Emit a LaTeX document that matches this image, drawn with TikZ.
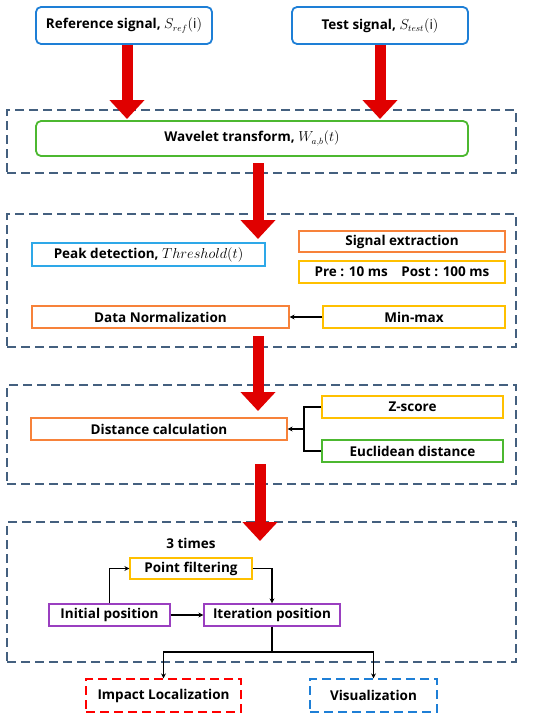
\documentclass[tikz,border=0pt]{standalone}
\usepackage{amsmath}
\usepackage{fontspec}
\setmainfont{Open Sans}
\usetikzlibrary{arrows.meta,positioning,calc}
\definecolor{boxblue}{HTML}{1E7FD6}
\definecolor{skyblue}{HTML}{2EA8E8}
\definecolor{boxgreen}{HTML}{4CB830}
\definecolor{boxorange}{HTML}{F7823A}
\definecolor{boxyellow}{HTML}{FFC000}
\definecolor{boxpurple}{HTML}{9A3FC0}
\definecolor{arrowred}{HTML}{E00000}
\definecolor{framegray}{HTML}{44607F}

\begin{document}
\begin{tikzpicture}[
                x=1pt, y=-1pt,
                font=\fontsize{13.5}{15}\selectfont\bfseries,
                box/.style={rectangle, draw, line width=1.2pt, align=center,
                        minimum height=22pt, inner sep=1pt},
                inbox/.style={box, rounded corners=5pt, line width=1.8pt, draw=boxblue},
                frame/.style={rectangle, draw=framegray, line width=1.2pt,
                        dash pattern=on 9pt off 5pt, inner sep=0pt},
                bigarrow/.style={draw=arrowred, line width=11pt,
                        -{Triangle[width=34pt, length=19pt]}},
                edge/.style={draw, line width=1.2pt, -{Stealth[length=5pt, width=5pt]}},
                link/.style={draw, line width=1.2pt},
            ]
            \useasboundingbox (0,0) rectangle (550,720);

            % -- dashed stage frames --------------------------------
            \node[frame, minimum width=509pt, minimum height=63pt]  (f1) at (261.5,141.5) {};
            \node[frame, minimum width=509pt, minimum height=133pt] (f2) at (261.5,280.5) {};
            \node[frame, minimum width=509pt, minimum height=99pt]  (f3) at (261.5,434.5) {};
            \node[frame, minimum width=509pt, minimum height=140pt] (f4) at (261.5,592) {};

            % -- inputs ---------------------------------------------
            \node[inbox, minimum width=176pt, minimum height=37pt] (ref)  at (124,25.5) {Reference signal, $S_{ref}(\mathrm{i})$};
            \node[inbox, minimum width=176pt, minimum height=37pt] (test) at (380,25.5) {Test signal, $S_{test}(\mathrm{i})$};
            \node[box, rounded corners=5pt, line width=1.8pt, draw=boxgreen,
                  minimum width=432pt, minimum height=35pt] (wave) at (252,138.5) {Wavelet transform, $W_{a,b}(t)$};

            % -- stage 2 --------------------------------------------
            \node[box, draw=skyblue,   minimum width=233pt, minimum height=23pt] (peak)    at (148.5,254.5) {Peak detection, $Threshold(t)$};
            \node[box, draw=boxorange, minimum width=206pt, minimum height=21pt] (sigext)  at (402,241.5) {Signal extraction};
            \node[box, draw=boxyellow, minimum width=206pt] (prepost) at (402,272) {Pre : 10 ms\quad Post : 100 ms};
            \node[box, draw=boxorange, minimum width=257pt] (norm)    at (160.5,317) {Data Normalization};
            \node[box, draw=boxyellow, minimum width=182pt] (minmax)  at (414,317) {Min-max};
            \draw[edge] (minmax) -- (norm);

            % -- stage 3 --------------------------------------------
            \node[box, draw=boxorange, minimum width=256pt] (dist)   at (159,429) {Distance calculation};
            \node[box, draw=boxyellow, minimum width=181pt] (zscore) at (412.5,407) {Z-score};
            \node[box, draw=boxgreen,  minimum width=181pt] (eucl)   at (412.5,451) {Euclidean distance};
            \coordinate (jn) at (304,429);
            \draw[link] (zscore.west) -| (jn) |- (eucl.west);
            \draw[edge] (jn) -- (dist.east);

            % -- stage 4 --------------------------------------------
            \node (times) at (191,543) {3 times};
            \node[box, draw=boxyellow, minimum width=122pt, minimum height=21pt] (pfilt) at (191,568.5) {Point filtering};
            \node[box, draw=boxpurple, minimum width=121pt] (init) at (109.5,615) {Initial position};
            \node[box, draw=boxpurple, minimum width=136pt] (iter) at (272,615) {Iteration position};
            \draw[edge] (init.north) |- (pfilt.west);
            \draw[edge] (pfilt.east) -| (iter.north);
            \draw[edge] (init) -- (iter);

            % -- outputs --------------------------------------------
            \node[box, draw=red, dash pattern=on 9pt off 5pt, minimum width=155pt, minimum height=33pt] (impact) at (163.5,695.5) {Impact Localization};
            \node[box, draw=boxblue, dash pattern=on 9pt off 5pt, minimum width=127pt, minimum height=33pt] (vis) at (373.5,695.5) {Visualization};
            \coordinate (split) at (272,652);
            \draw[link] (iter.south) -- (split);
            \draw[edge] (split) -| (impact.north);
            \draw[edge] (split) -| (vis.north);

            % -- big red arrows -------------------------------------
            \coordinate (t1) at (127,119);
            \coordinate (a2s) at (258,163);
            \coordinate (a2e) at (258,239);
            \coordinate (a3s) at (258,336);
            \coordinate (a3e) at (258,411);
            \coordinate (a4s) at (260,464);
            \coordinate (a4e) at (260,541);
            \draw[bigarrow] (ref.south -| t1) -- (t1);
            \draw[bigarrow] (test.south) -- (test.south |- t1);
            \draw[bigarrow] (a2s) -- (a2e);
            \draw[bigarrow] (a3s) -- (a3e);
            \draw[bigarrow] (a4s) -- (a4e);
        \end{tikzpicture}
\end{document}
